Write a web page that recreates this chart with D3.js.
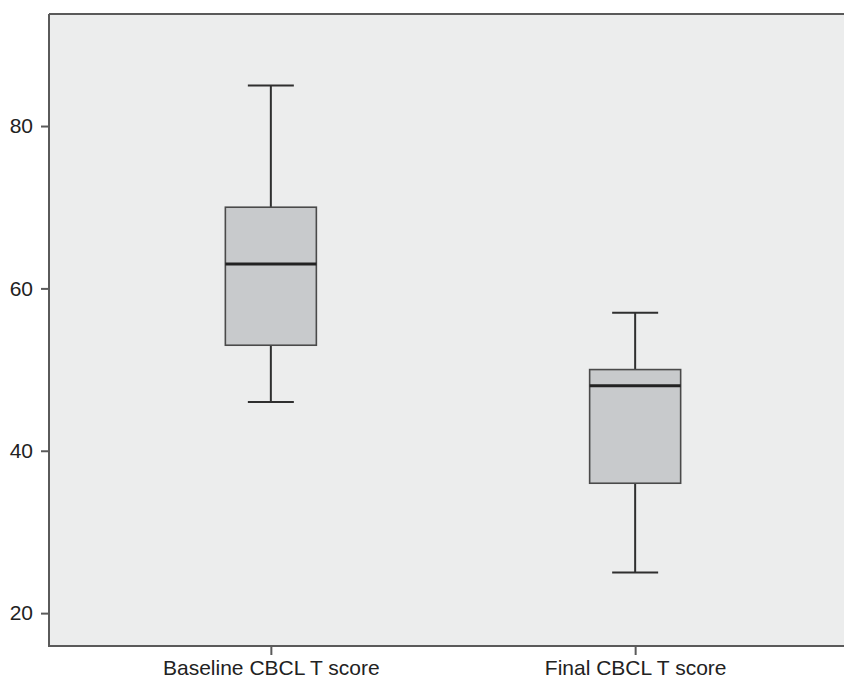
<!DOCTYPE html>
<html>
<head>
<meta charset="utf-8">
<script src="https://cdn.jsdelivr.net/npm/d3@7"></script>
<style>
  body { margin: 0; background: #fff; }
  svg { display: block; font-family: "Liberation Sans", Arial, sans-serif; }
</style>
</head>
<body>
<svg id="chart" width="844" height="680"></svg>
<script>
// ----------

const CATEGORIES = ["Baseline CBCL T score", "Final CBCL T score"];
const WHISKER_LOW = [46, 25];
const Q1 = [53, 36];
const MEDIAN = [63, 48];
const Q3 = [70, 50];
const WHISKER_HIGH = [85, 57];
const Y_TICKS = [20, 40, 60, 80];

const PLOT_BG = "#eceded";
const BOX_FILL = "#c8cacc";
const LINE_DARK = "#2f2f2f";
const AXIS_COLOR = "#5a5a5a";

// ----------

const svg = d3.select("#chart");
const plotLeft = 49, plotTop = 14, plotRight = 857, plotBottom = 646;

const x = d3.scalePoint().domain(CATEGORIES).range([plotLeft, plotRight]).padding(0.609);
const y = d3.scaleLinear().domain([15.95, 93.8]).range([plotBottom, plotTop]);

const boxWidth = 91;
const capWidth = 46;

// plot background + frame
svg.append("rect")
  .attr("x", plotLeft).attr("y", plotTop)
  .attr("width", plotRight - plotLeft).attr("height", plotBottom - plotTop)
  .attr("fill", PLOT_BG);

svg.append("line")
  .attr("x1", plotLeft).attr("x2", plotRight).attr("y1", plotTop).attr("y2", plotTop)
  .attr("stroke", AXIS_COLOR).attr("stroke-width", 2);

// boxes
const boxes = CATEGORIES.map(function (c, i) {
  return { name: c, lo: WHISKER_LOW[i], q1: Q1[i], med: MEDIAN[i], q3: Q3[i], hi: WHISKER_HIGH[i] };
});

const g = svg.selectAll("g.box").data(boxes).enter().append("g").attr("class", "box");

// whiskers
g.append("line")
  .attr("x1", d => x(d.name)).attr("x2", d => x(d.name))
  .attr("y1", d => y(d.hi)).attr("y2", d => y(d.q3))
  .attr("stroke", LINE_DARK).attr("stroke-width", 2);
g.append("line")
  .attr("x1", d => x(d.name)).attr("x2", d => x(d.name))
  .attr("y1", d => y(d.q1)).attr("y2", d => y(d.lo))
  .attr("stroke", LINE_DARK).attr("stroke-width", 2);

// caps
g.append("line")
  .attr("x1", d => x(d.name) - capWidth / 2).attr("x2", d => x(d.name) + capWidth / 2)
  .attr("y1", d => y(d.hi)).attr("y2", d => y(d.hi))
  .attr("stroke", LINE_DARK).attr("stroke-width", 2);
g.append("line")
  .attr("x1", d => x(d.name) - capWidth / 2).attr("x2", d => x(d.name) + capWidth / 2)
  .attr("y1", d => y(d.lo)).attr("y2", d => y(d.lo))
  .attr("stroke", LINE_DARK).attr("stroke-width", 2);

// box
g.append("rect")
  .attr("x", d => x(d.name) - boxWidth / 2)
  .attr("y", d => y(d.q3))
  .attr("width", boxWidth)
  .attr("height", d => y(d.q1) - y(d.q3))
  .attr("fill", BOX_FILL)
  .attr("stroke", "#4a4a4a").attr("stroke-width", 1.6);

// median
g.append("line")
  .attr("x1", d => x(d.name) - boxWidth / 2).attr("x2", d => x(d.name) + boxWidth / 2)
  .attr("y1", d => y(d.med)).attr("y2", d => y(d.med))
  .attr("stroke", "#222").attr("stroke-width", 3);

// y axis
const yAxis = svg.append("g")
  .attr("transform", "translate(" + plotLeft + ",0)")
  .call(d3.axisLeft(y).tickValues(Y_TICKS).tickSize(8).tickPadding(8).tickSizeOuter(0));
yAxis.select(".domain").remove();
yAxis.append("line")
  .attr("x1", 0).attr("x2", 0).attr("y1", plotTop).attr("y2", plotBottom)
  .attr("stroke", AXIS_COLOR).attr("stroke-width", 2);
yAxis.selectAll(".tick line").attr("stroke", AXIS_COLOR).attr("stroke-width", 2);
yAxis.selectAll(".tick text")
  .attr("fill", "#222").style("font-size", "21px");

// x axis
const xAxis = svg.append("g")
  .attr("transform", "translate(0," + plotBottom + ")")
  .call(d3.axisBottom(x).tickSize(9).tickSizeOuter(0));
xAxis.select(".domain").remove();
xAxis.append("line")
  .attr("x1", plotLeft - 1).attr("x2", plotRight).attr("y1", 0).attr("y2", 0)
  .attr("stroke", AXIS_COLOR).attr("stroke-width", 2);
xAxis.selectAll(".tick line").attr("stroke", AXIS_COLOR).attr("stroke-width", 2);
xAxis.selectAll(".tick text")
  .attr("y", 29).attr("dy", 0)
  .attr("fill", "#222").style("font-size", "21px");
</script>
</body>
</html>
